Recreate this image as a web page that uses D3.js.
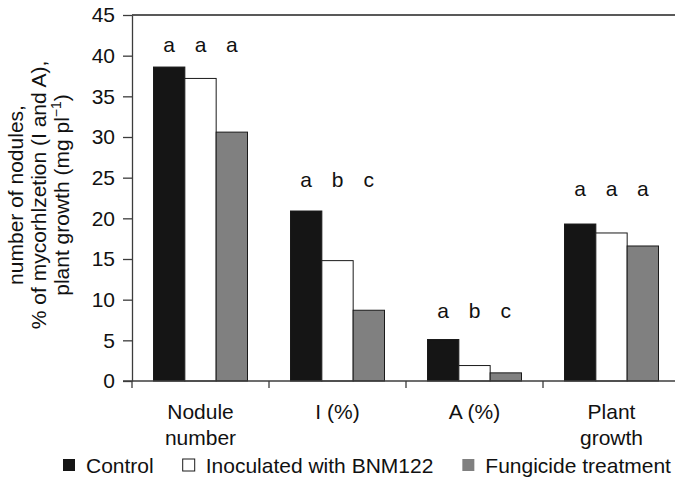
<!DOCTYPE html>
<html>
<head>
<meta charset="utf-8">
<script src="https://cdn.jsdelivr.net/npm/d3@7/dist/d3.min.js"></script>
<style>
  html, body { margin: 0; padding: 0; background: #fff; }
  svg { display: block; font-family: "Liberation Sans", Arial, Helvetica, sans-serif; }
</style>
</head>
<body>
<svg id="chart" width="675" height="478"></svg>
<script>
// Categories along the x axis (each may wrap onto two lines)
const categories = ["Nodule number", "I (%)", "A (%)", "Plant growth"];
const categoryLines = [["Nodule", "number"], ["I (%)"], ["A (%)"], ["Plant", "growth"]];

// Treatments and their values per category
const series = ["Control", "Inoculated with BNM122", "Fungicide treatment"];
const controlValues    = [38.6, 20.9, 5.1, 19.3];
const inoculatedValues = [37.2, 14.8, 1.9, 18.2];
const fungicideValues  = [30.6, 8.7, 1.0, 16.6];

// Significance letters and the level they are written at
const letters = [["a", "a", "a"], ["a", "b", "c"], ["a", "b", "c"], ["a", "a", "a"]];
const letterLevels = [40.5, 23.8, 7.7, 22.7];

const yTicks = [0, 5, 10, 15, 20, 25, 30, 35, 40, 45];

const seriesValues = [controlValues, inoculatedValues, fungicideValues];
const fills = ["#151515", "#ffffff", "#808080"];

const svg = d3.select("#chart");
const plotLeft = 132, plotRight = 680, plotTop = 15, plotBottom = 381;

const x = d3.scaleBand().domain(categories).range([plotLeft, plotRight]).padding(0);
const xs = d3.scaleBand().domain(series).range([21.5, 115.5]).padding(0);
const y = d3.scaleLinear().domain([0, 45]).range([plotBottom, plotTop]);

const axisColor = "#3c3c3c";

// Bars
categories.forEach((c, ci) => {
  const g = svg.append("g").attr("transform", `translate(${x(c)},0)`);
  series.forEach((s, si) => {
    const v = seriesValues[si][ci];
    g.append("rect")
      .attr("x", xs(s))
      .attr("y", y(v))
      .attr("width", xs.bandwidth())
      .attr("height", y(0) - y(v))
      .attr("fill", fills[si])
      .attr("stroke", "#1a1a1a")
      .attr("stroke-width", 1);
    g.append("text")
      .attr("x", xs(s) + xs.bandwidth() / 2)
      .attr("y", y(letterLevels[ci]))
      .attr("text-anchor", "middle")
      .attr("font-size", 21)
      .attr("fill", "#111")
      .text(letters[ci][si]);
  });
});

// Top frame line
svg.append("line")
  .attr("x1", plotLeft).attr("x2", plotRight)
  .attr("y1", y(45)).attr("y2", y(45))
  .attr("stroke", "#222").attr("stroke-width", 1.3);

// Y axis
const yAxis = d3.axisLeft(y).tickValues(yTicks).tickSizeOuter(0).tickSizeInner(9).tickPadding(8);
const yg = svg.append("g").attr("transform", `translate(${plotLeft},0)`).call(yAxis);
yg.select(".domain").attr("stroke", axisColor).attr("stroke-width", 1.3);
yg.selectAll(".tick line").attr("stroke", axisColor).attr("stroke-width", 1.3);
yg.selectAll(".tick text")
  .attr("font-size", 21)
  .attr("font-family", "Liberation Sans, Arial, sans-serif")
  .attr("fill", "#111");

// X axis with ticks at category boundaries
const xg = svg.append("g").attr("transform", `translate(0,${plotBottom})`);
xg.append("line").attr("x1", 123).attr("x2", plotRight).attr("y1", 0).attr("y2", 0)
  .attr("stroke", axisColor).attr("stroke-width", 1.3);
const bounds = categories.map(c => x(c)).concat([x(categories[categories.length - 1]) + x.bandwidth()]);
xg.selectAll("line.sep").data(bounds).enter().append("line")
  .attr("class", "sep")
  .attr("x1", d => d).attr("x2", d => d)
  .attr("y1", 0).attr("y2", 7)
  .attr("stroke", axisColor).attr("stroke-width", 1.3);

// Category labels
categories.forEach((c, ci) => {
  const t = svg.append("text")
    .attr("x", x(c) + x.bandwidth() / 2)
    .attr("y", 418.5)
    .attr("text-anchor", "middle")
    .attr("font-size", 21)
    .attr("fill", "#111");
  categoryLines[ci].forEach((line, li) => {
    t.append("tspan")
      .attr("x", x(c) + x.bandwidth() / 2)
      .attr("dy", li === 0 ? 0 : 26.5)
      .text(line);
  });
});

// Y axis title (three rotated lines)
const titleLines = ["number of nodules,", "% of mycorhlzetion (I and A),"];
const titleX = [23, 46, 69];
const titleY = 195;
titleLines.forEach((line, i) => {
  svg.append("text")
    .attr("transform", `translate(${titleX[i]},${titleY}) rotate(-90)`)
    .attr("text-anchor", "middle")
    .attr("font-size", 21)
    .attr("fill", "#111")
    .text(line);
});
const t3 = svg.append("text")
  .attr("transform", `translate(${titleX[2]},${titleY}) rotate(-90)`)
  .attr("text-anchor", "middle")
  .attr("font-size", 21)
  .attr("fill", "#111");
t3.append("tspan").text("plant growth (mg pl");
t3.append("tspan").attr("font-size", 14).attr("dy", -8).text("\u22121");
t3.append("tspan").attr("dy", 8).text(")");

// Legend
const legend = svg.append("g");
let lx = 63;
const ly = 465;
series.forEach((s, si) => {
  legend.append("rect")
    .attr("x", lx).attr("y", ly - 6)
    .attr("width", 12).attr("height", 12)
    .attr("fill", fills[si])
    .attr("stroke", si === 1 ? "#1a1a1a" : "none")
    .attr("stroke-width", 1);
  const txt = legend.append("text")
    .attr("x", lx + 23).attr("y", ly + 7.5)
    .attr("font-size", 21)
    .attr("fill", "#111")
    .text(s);
  lx += 23 + txt.node().getComputedTextLength() + 29;
});
</script>
</body>
</html>
